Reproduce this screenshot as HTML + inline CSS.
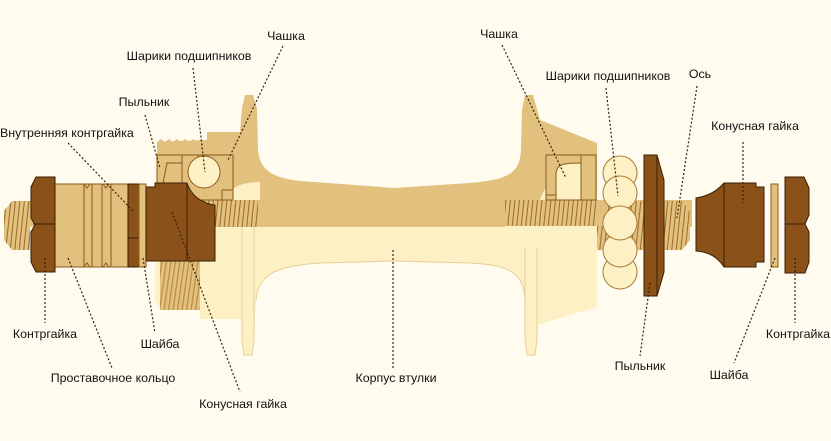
<!DOCTYPE html>
<html><head><meta charset="utf-8"><style>
html,body{margin:0;padding:0;background:#fffbee;}
svg{display:block}
text{font-family:"Liberation Sans",sans-serif;font-size:12.4px;fill:#111;}
</style></head><body>
<svg width="831" height="441" viewBox="0 0 831 441" xmlns="http://www.w3.org/2000/svg">
<defs>
<pattern id="thr" width="4.5" height="10" patternUnits="userSpaceOnUse" patternTransform="skewX(-6)">
<rect width="4.5" height="10" fill="#e2c07e"/><rect width="1" height="10" fill="#9a6a28"/></pattern>
<pattern id="thr2" width="4.5" height="10" patternUnits="userSpaceOnUse" patternTransform="skewX(-8)">
<rect width="4.5" height="10" fill="#e2c07e"/><rect width="1.2" height="10" fill="#b88a45"/></pattern>
</defs>
<rect width="831" height="441" fill="#fffbee"/>

<path d="M155 226 L597 226 L597 307 L537 325 L537 340 L535 355 L527 355 L525 340 L525 300 C524 270 505 265 470 263 L395 261 L320 263 C280 266 258 272 256 300 L254 340 L252 355 L244 355 L242 340 L242 319 L200 319 L200 310 L160 310 L155 300 Z" fill="#fdf0c4"/>
<path d="M256 300 C258 272 280 266 320 263 L395 261 L470 263 C505 265 524 270 525 300" fill="none" stroke="#e8cf95" stroke-width="1"/>
<path d="M242 227 L242 340 L244 355 L252 355 L254 340 L254 227 M525 227 L525 340 L527 355 L535 355 L537 340 L537 227" fill="none" stroke="#e8cf95" stroke-width="1"/>
<rect x="160" y="227" width="40" height="83" fill="url(#thr2)"/>

<path d="M157 200 L157 142 L207 140 L207 132 L240 132 L242 108 L245 95 L253 95 L257 108 L258 150 C260 172 275 178 300 181 L395 188 L470 183 C505 180 520 175 521 150 L522 110 L525 95 L533 95 L540 120 L597 143 L597 200 Z" fill="#e2c07e"/>
<path d="M157 142 l4 -3 4 3 4 -3 4 3 4 -3 4 3 4 -3 4 3 4 -3 4 3 4 -3 4 3 4 -3 4 3 z" fill="#e2c07e"/>
<path d="M540 200 C545 185 555 175 570 172 L570 200 Z M225 200 C230 188 240 182 260 182 L260 200Z" fill="#fdf0c4"/>

<rect x="30" y="200" width="662" height="27" fill="#e2c07e"/>
<path d="M12 201 L30 201 L30 250 L12 250 L4 240 L4 211 Z" fill="url(#thr)"/>
<rect x="200" y="200" width="58" height="27" fill="url(#thr)"/>
<rect x="505" y="226" width="92" height="22" fill="#fdf0c4"/>
<rect x="505" y="200" width="92" height="26" fill="url(#thr)"/>
<path d="M605 201 L682 201 L690 212 L690 240 L682 250 L605 250 Z" fill="url(#thr)"/>
<rect x="597" y="226" width="8" height="24" fill="url(#thr)"/>

<g fill="none" stroke="#8b5a1a" stroke-width="1">
<rect x="157" y="155" width="76" height="45" fill="#e2c07e"/>
<path d="M182 155 L182 183 M198 155 L198 165 M163 183 L167 163 L182 163 M222 190 L233 190 M222 190 L222 200"/>
</g>
<circle cx="204" cy="172" r="16" fill="#fdf0c4" stroke="#8b5a1a" stroke-width="1"/>

<g stroke="#8b5a1a" stroke-width="1">
<rect x="546" y="155" width="50" height="45" fill="#e2c07e"/>
<path d="M556 200 L556 175 C556 163 565 163 581 163 L581 200 Z" fill="#fdf0c4"/>
<path d="M581 155 L581 200 M546 195 L556 195" fill="none"/>
</g>
<g fill="#fdf0c4" stroke="#a97b35" stroke-width="1">
<circle cx="620" cy="272" r="17"/><circle cx="620" cy="250" r="17"/>
<circle cx="620" cy="173" r="17"/><circle cx="620" cy="193" r="17"/>
<circle cx="620" cy="223" r="17"/>
</g>

<g stroke="#3a1e05" stroke-width="1">
<rect x="55" y="184" width="73" height="83" fill="#e2c07e" stroke="#8b5a1a"/>
<path d="M84 184 L87 188 L90 184 M84 267 L87 263 L90 267 M103 184 L106 188 L109 184 M103 267 L106 263 L109 267 M84 184 L84 267 M92 184 L92 267 M102 184 L102 267 M111 184 L111 267" fill="none" stroke="#8b5a1a"/>
<path d="M36 177 L55 177 L55 272 L36 272 L31 262 L31 232 L35 225 L31 218 L31 187 Z" fill="#8a5218"/>
<path d="M33 224 L55 224" fill="none"/>
<rect x="128" y="184" width="11" height="83" fill="#8a5218"/>
<path d="M128 238 L139 238" fill="none"/>
<rect x="139" y="184" width="7" height="83" fill="#e2c07e" stroke="#8b5a1a"/>
<path d="M146 187 L155 187 L155 183 L187 183 C191 195 200 202 213 205 L215 205 L215 261 L146 261 Z" fill="#8a5218"/>
<path d="M187 183 L187 261" fill="none"/>
</g>

<g stroke="#3a1e05" stroke-width="1">
<path d="M644 155 L657 155 L664 180 L664 272 L657 296 L644 296 Z" fill="#8a5218"/>
<path d="M657 155 L657 296" fill="none"/>
<path d="M696 198 C710 196 718 190 724 183 L756 183 L756 187 L764 187 L764 262 L756 262 L756 267 L724 267 C718 258 710 252 696 251 Z" fill="#8a5218"/>
<path d="M724 183 L724 267" fill="none"/>
<rect x="771" y="184" width="7" height="83" fill="#e2c07e" stroke="#8b5a1a"/>
<path d="M785 177 L804 177 L809 188 L809 215 L805 224 L809 232 L809 262 L805 273 L785 273 Z" fill="#8a5218"/>
<path d="M785 224 L805 224" fill="none"/>
</g>

<g stroke="#3a2408" stroke-width="1.2" stroke-dasharray="2,2" fill="none">
<path d="M283 46 L228 160"/><path d="M193 68 L205 172"/><path d="M145 115 L160 168"/>
<path d="M68 143 L134 212"/><path d="M45 258 L45 323"/><path d="M143 258 L155 333"/>
<path d="M68 258 L112 368"/><path d="M172 212 L240 392"/><path d="M393 250 L393 368"/>
<path d="M502 45 L566 178"/><path d="M606 88 L618 196"/><path d="M697 86 L677 218"/>
<path d="M743 142 L743 203"/><path d="M650 283 L640 356"/><path d="M775 258 L734 363"/>
<path d="M795 258 L795 323"/>
</g>

<text x="286" y="40" text-anchor="middle">Чашка</text>
<text x="189" y="60" text-anchor="middle">Шарики подшипников</text>
<text x="144" y="106" text-anchor="middle">Пыльник</text>
<text x="0" y="137">Внутренняя контргайка</text>
<text x="499" y="38" text-anchor="middle">Чашка</text>
<text x="608" y="80" text-anchor="middle">Шарики подшипников</text>
<text x="700" y="78" text-anchor="middle">Ось</text>
<text x="755" y="130" text-anchor="middle">Конусная гайка</text>
<text x="45" y="338" text-anchor="middle">Контргайка</text>
<text x="160" y="348" text-anchor="middle">Шайба</text>
<text x="113" y="382" text-anchor="middle">Проставочное кольцо</text>
<text x="396" y="382" text-anchor="middle">Корпус втулки</text>
<text x="243" y="408" text-anchor="middle">Конусная гайка</text>
<text x="640" y="370" text-anchor="middle">Пыльник</text>
<text x="729" y="379" text-anchor="middle">Шайба</text>
<text x="798" y="338" text-anchor="middle">Контргайка</text>
</svg>
</body></html>
